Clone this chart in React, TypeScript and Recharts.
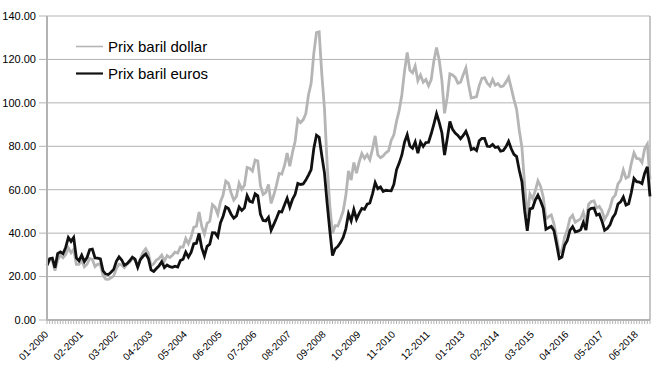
import React from 'react';
import { LineChart, Line, XAxis, YAxis, CartesianGrid, Legend, ReferenceLine } from 'recharts';

// months 01-2000 .. 11-2018
const monthLabels: string[] = [];
for (let y = 2000; y <= 2018; y++) {
  for (let m = 1; m <= 12; m++) {
    if (y === 2018 && m > 11) break;
    monthLabels.push(`${String(m).padStart(2, '0')}-${y}`);
  }
}

const yTicks = [0, 20, 40, 60, 80, 100, 120, 140];

// Prix baril dollar, one line per year
const dollarPrices = [
  25.51, 27.78, 27.49, 22.76, 27.74, 29.8, 28.68, 30.2, 33.14, 30.96, 32.55, 25.66,
  25.62, 27.5, 24.5, 25.66, 28.31, 27.85, 24.61, 25.68, 25.62, 20.54, 18.8, 18.71,
  19.42, 20.28, 23.7, 25.73, 25.35, 24.08, 25.74, 26.65, 28.4, 27.54, 24.34, 28.33,
  31.18, 32.77, 30.61, 25.0, 25.86, 27.65, 28.35, 29.89, 27.11, 29.61, 28.75, 29.81,
  31.28, 30.86, 33.63, 33.59, 37.57, 35.18, 38.22, 42.74, 43.2, 49.78, 43.11, 39.6,
  44.51, 45.48, 53.1, 51.88, 48.65, 54.35, 57.52, 63.98, 62.91, 58.54, 55.24, 56.86,
  62.99, 60.21, 62.06, 70.26, 69.78, 68.56, 73.67, 73.23, 61.96, 57.81, 58.76, 62.47,
  53.68, 57.56, 62.05, 67.49, 67.21, 71.05, 76.93, 70.76, 77.17, 82.34, 92.41, 90.93,
  92.18, 94.99, 103.64, 109.07, 122.8, 132.32, 132.72, 113.24, 97.23, 71.58, 52.45, 39.95,
  43.44, 43.32, 46.54, 50.18, 57.3, 68.61, 64.44, 72.51, 67.65, 72.77, 76.66, 74.46,
  76.17, 73.75, 78.83, 84.82, 75.95, 74.76, 75.58, 77.04, 77.84, 82.67, 85.28, 91.45,
  96.52, 103.72, 114.64, 123.26, 114.99, 113.83, 116.97, 110.22, 112.83, 109.55, 110.77, 107.87,
  110.69, 119.33, 125.45, 119.75, 110.34, 95.16, 102.62, 113.36, 112.86, 111.71, 109.06, 109.49,
  112.96, 116.05, 108.47, 102.25, 102.56, 102.92, 107.93, 111.28, 111.6, 109.08, 107.79, 110.76,
  108.12, 108.9, 107.48, 107.76, 109.54, 111.8, 106.77, 101.61, 97.09, 87.43, 79.44, 62.34,
  47.76, 58.1, 55.89, 59.52, 64.08, 61.48, 56.56, 46.52, 47.62, 48.43, 44.27, 38.01,
  30.7, 32.18, 38.21, 41.58, 46.74, 48.25, 44.95, 45.84, 46.57, 49.52, 44.73, 53.31,
  54.58, 54.87, 51.59, 52.31, 50.33, 46.37, 48.48, 51.7, 56.15, 57.51, 62.71, 64.37,
  69.08, 65.32, 66.02, 72.11, 76.98, 74.41, 74.25, 72.53, 78.89, 81.03, 64.75,
];

// Prix baril euros, one line per year
const euroPrices = [
  25.16, 28.25, 28.51, 24.03, 30.62, 31.39, 30.52, 33.4, 38.0, 36.2, 38.01, 28.6,
  27.3, 29.84, 26.94, 28.77, 32.38, 32.64, 28.59, 28.52, 28.12, 22.67, 21.16, 20.97,
  21.99, 23.31, 27.06, 29.05, 27.64, 25.2, 25.94, 27.26, 28.96, 28.07, 24.31, 27.82,
  29.35, 30.42, 28.32, 23.05, 22.33, 23.71, 24.93, 26.83, 24.16, 25.32, 24.57, 24.26,
  24.8, 24.4, 27.43, 28.03, 31.29, 28.98, 31.16, 35.1, 35.36, 39.86, 33.18, 29.53,
  33.93, 34.95, 40.22, 40.1, 38.33, 44.68, 47.79, 52.05, 51.33, 48.72, 46.87, 47.96,
  52.04, 50.44, 51.63, 57.26, 54.64, 54.2, 58.08, 57.16, 48.68, 45.84, 45.62, 47.28,
  41.3, 44.03, 46.86, 49.93, 49.74, 52.95, 56.09, 51.95, 55.53, 57.88, 62.93, 62.41,
  62.63, 64.41, 66.75, 69.25, 78.94, 85.08, 84.16, 75.62, 67.66, 53.73, 41.2, 29.7,
  32.81, 33.88, 35.66, 38.04, 41.98, 48.95, 45.74, 50.82, 46.46, 49.12, 51.4, 50.95,
  53.37, 53.89, 58.1, 63.27, 60.45, 61.23, 59.19, 59.75, 59.57, 59.48, 62.43, 69.18,
  72.25, 75.99, 81.89, 85.35, 80.14, 79.11, 82.0, 76.85, 81.94, 79.93, 81.71, 81.85,
  85.77, 90.24, 95.03, 90.98, 86.28, 75.97, 83.51, 91.42, 87.79, 86.1, 85.02, 83.46,
  85.01, 86.87, 83.67, 78.5, 79.0, 78.04, 82.52, 83.61, 83.61, 80.0, 79.89, 80.82,
  79.44, 79.73, 77.75, 78.01, 79.77, 82.25, 78.86, 76.31, 75.26, 68.99, 63.69, 50.56,
  41.1, 51.19, 51.57, 55.22, 57.47, 54.83, 51.44, 41.76, 42.44, 43.11, 41.24, 34.95,
  28.27, 29.01, 34.42, 36.67, 41.32, 42.97, 40.61, 40.88, 41.54, 44.91, 41.42, 50.56,
  51.42, 51.56, 48.28, 48.78, 45.51, 41.3, 42.12, 43.79, 47.13, 48.92, 53.42, 54.39,
  56.62, 52.9, 53.52, 58.74, 65.17, 63.72, 63.54, 62.8, 67.66, 70.56, 56.96,
];

const seriesNames = ['Prix baril dollar', 'Prix baril euros'];
const GREY = '#b5b5b5';
const DARK = '#111111';
const AXIS = '#b3b3b3';

const data = monthLabels.map((month, i) => ({
  month,
  dollar: dollarPrices[i],
  euro: euroPrices[i],
}));

const MonthTick = (props: any) => {
  const { x, y, payload, index } = props;
  if (index % 13 !== 0) return <g />;
  const tx = x + 2;
  const ty = y + 9;
  return (
    <text
      x={tx}
      y={ty}
      transform={`rotate(-45, ${tx}, ${ty})`}
      textAnchor="end"
      fontSize={10}
      fill="#000"
    >
      {payload.value}
    </text>
  );
};

const LegendBox = () => (
  <div style={{ fontSize: 15, color: '#000', lineHeight: '27px' }}>
    {[GREY, DARK].map((c, i) => (
      <div key={i} style={{ display: 'flex', alignItems: 'center', whiteSpace: 'nowrap' }}>
        <svg width={27} height={27} style={{ marginRight: 5 }}>
          <line x1={0} y1={13.5} x2={27} y2={13.5} stroke={c} strokeWidth={i === 0 ? 1.6 : 2.2} />
        </svg>
        <span>{seriesNames[i]}</span>
      </div>
    ))}
  </div>
);

export default function App() {
  return (
    <div style={{ position: 'absolute', left: 0, top: 0, width: 652, height: 389, background: '#fff' }}>
      <LineChart
        width={652}
        height={389}
        data={data}
        margin={{ top: 16, right: 2, left: 0, bottom: 0 }}
        style={{ fontFamily: '"Liberation Sans", Arial, sans-serif' }}
      >
        <CartesianGrid vertical={false} stroke={AXIS} strokeWidth={1} />
        <XAxis
          dataKey="month"
          interval={0}
          height={69}
          axisLine={{ stroke: AXIS, strokeWidth: 2 }}
          tickLine={{ stroke: AXIS, strokeWidth: 1 }}
          tickSize={4}
          tick={<MonthTick />}
        />
        <YAxis
          domain={[0, 140]}
          ticks={yTicks}
          width={47}
          tickFormatter={(v: number) => v.toFixed(2)}
          axisLine={{ stroke: AXIS, strokeWidth: 2 }}
          tickLine={{ stroke: AXIS, strokeWidth: 1 }}
          tickSize={8}
          tickMargin={3}
          tick={{ fontSize: 11, fill: '#000' }}
          allowDataOverflow
        />
        <ReferenceLine x={monthLabels[monthLabels.length - 1]} stroke={AXIS} strokeWidth={1.5} />
        <Legend
          layout="horizontal"
          verticalAlign="middle"
          align="center"
          wrapperStyle={{ top: 33, left: 76, width: 200 }}
          content={<LegendBox />}
        />
        <Line
          type="linear"
          dataKey="dollar"
          name={seriesNames[0]}
          stroke={GREY}
          strokeWidth={2.8}
          dot={false}
          isAnimationActive={false}
        />
        <Line
          type="linear"
          dataKey="euro"
          name={seriesNames[1]}
          stroke={DARK}
          strokeWidth={2.8}
          dot={false}
          isAnimationActive={false}
        />
      </LineChart>
    </div>
  );
}
